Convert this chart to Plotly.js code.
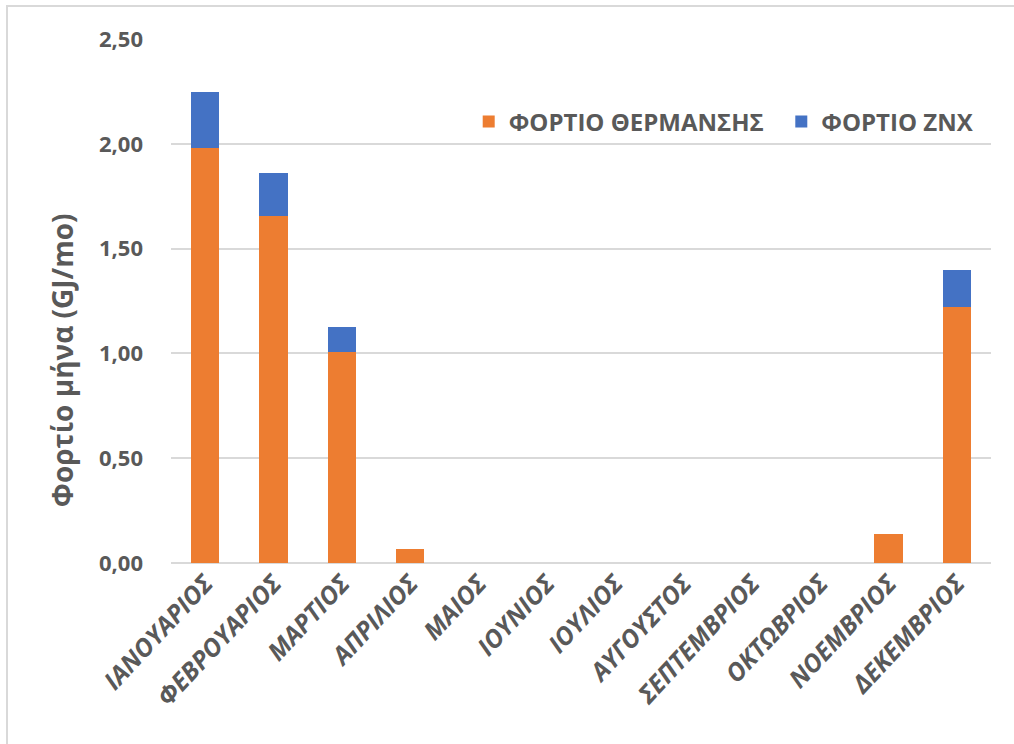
<!DOCTYPE html>
<html>
<head>
<meta charset="utf-8">
<script src="https://cdn.plot.ly/plotly-3.0.1.min.js"></script>
<style>
html,body{margin:0;padding:0;background:#fff;}
#wrap{position:relative;width:1014px;height:744px;}
#chart{width:1014px;height:744px;}
#frame{position:absolute;left:6px;top:5px;width:1008px;height:739px;border-left:2px solid #d9d9d9;border-top:2px solid #d9d9d9;box-sizing:border-box;pointer-events:none;}
</style>
</head>
<body>
<div id="wrap"><div id="chart"></div><div id="frame"></div></div>
<script>
const months = ["ΙΑΝΟΥΑΡΙΟΣ","ΦΕΒΡΟΥΑΡΙΟΣ","ΜΑΡΤΙΟΣ","ΑΠΡΙΛΙΟΣ","ΜΑΙΟΣ","ΙΟΥΝΙΟΣ","ΙΟΥΛΙΟΣ","ΑΥΓΟΥΣΤΟΣ","ΣΕΠΤΕΜΒΡΙΟΣ","ΟΚΤΩΒΡΙΟΣ","ΝΟΕΜΒΡΙΟΣ","ΔΕΚΕΜΒΡΙΟΣ"];
const heatingLoad = [1.98, 1.655, 1.005, 0.068, 0, 0, 0, 0, 0, 0, 0.14, 1.222];
const dhwLoad     = [0.267, 0.205, 0.122, 0, 0, 0, 0, 0, 0, 0, 0, 0.176];
const seriesNames = ["ΦΟΡΤΙΟ ΘΕΡΜΑΝΣΗΣ", "ΦΟΡΤΙΟ ΖΝΧ"];
const yTicks = [0, 0.5, 1, 1.5, 2, 2.5];
const yTitle = "Φορτίο μήνα (GJ/mo)";

const grey = "#595959";
const fam = "Open Sans, Noto Sans, DejaVu Sans, sans-serif";
const pad = "\u00a0\u00a0";

const data = [
  {type:"bar", name:seriesNames[0] + pad, x:months, y:heatingLoad, marker:{color:"#ED7D31"}, hoverinfo:"x+y"},
  {type:"bar", name:seriesNames[1], x:months, y:dhwLoad, marker:{color:"#4472C4"}, hoverinfo:"x+y"}
];

const layout = {
  width:1014, height:744,
  barmode:"stack",
  bargap:0.59,
  separators:",.",
  paper_bgcolor:"#fff", plot_bgcolor:"#fff",
  margin:{l:171, r:23, t:39, b:181},
  font:{family:fam, color:grey},
  showlegend:true,
  legend:{orientation:"h", x:0.985, xanchor:"right", y:0.842, yanchor:"middle",
          font:{size:24, weight:"bold", color:grey}, traceorder:"normal",
          itemwidth:30, bgcolor:"rgba(0,0,0,0)"},
  xaxis:{type:"category", tickangle:-47, showgrid:false, showline:false, zeroline:false, ticks:"",
         tickfont:{size:25, weight:"bold", style:"italic", color:grey}},
  yaxis:{range:[0,2.5], tickvals:yTicks, tickformat:".2f", showgrid:true, gridcolor:"#d9d9d9", gridwidth:2,
         zeroline:true, zerolinecolor:"#d9d9d9", zerolinewidth:2, showline:false, ticks:"", ticklen:0,
         ticklabelstandoff:27,
         tickfont:{size:22, weight:"bold", color:grey}},
  annotations:[{text:yTitle, xref:"paper", yref:"paper", x:-0.133, y:0.387, xanchor:"center", yanchor:"middle",
                textangle:-90, showarrow:false, font:{size:28, weight:"bold", color:grey}}]
};

Plotly.newPlot("chart", data, layout, {displayModeBar:false, staticPlot:true});
</script>
</body>
</html>
